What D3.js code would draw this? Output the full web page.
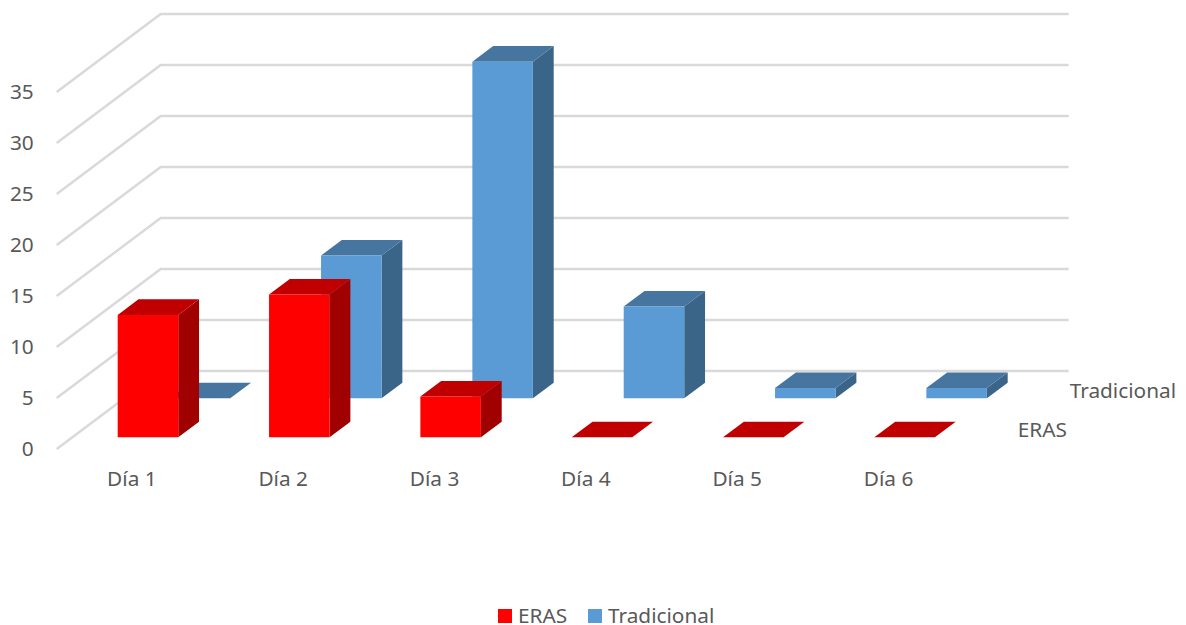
<!DOCTYPE html>
<html>
<head>
<meta charset="utf-8">
<script src="https://cdnjs.cloudflare.com/ajax/libs/d3/7.8.5/d3.min.js"></script>
<style>
    html, body { margin: 0; padding: 0; background: #fff; overflow: hidden; }
    text { font-family: "Noto Sans", sans-serif; fill: #595959; }
</style>
</head>
<body>
<svg id="plotarea" width="1186" height="625"></svg>
<script>
var days = ["Día 1", "Día 2", "Día 3", "Día 4", "Día 5", "Día 6"];
var seriesNames = ["ERAS", "Tradicional"];
var eras = [12, 14, 4, 0, 0, 0];
var tradicional = [0, 14, 33, 9, 1, 1];
var yTicks = [0, 5, 10, 15, 20, 25, 30, 35];

var fontSize = 20.8;

// Faces of each series: front, top, side
var colours = {
    "ERAS": {front: "#ff0000", top: "#c00000", side: "#a00000"},
    "Tradicional": {front: "#5b9bd5", top: "#4675a0", side: "#3a6488"}
};

// Floor of the box: front edge starts at (left, floorY), depth pushes it up and right
var left = 56.7, floorY = 449, floorW = 908;
var depthX = 104, depthY = 78;

var svg = d3.select("#plotarea");

var x = d3.scaleBand()
    .domain(days)
    .range([left, left + floorW])
    .paddingInner(0.6)
    .paddingOuter(0.3);

var y = d3.scaleLinear()
    .domain([0, 35])
    .range([floorY, 92]);

// Depth runs from 0 at the front of the box to 1 at the back wall
var z = d3.scaleBand()
    .domain(seriesNames)
    .range([0, 1])
    .paddingInner(0.6)
    .paddingOuter(0.3);

function project(px, value, d) {
    return [px + d * depthX, y(value) - d * depthY];
}

function pointsAttr(pts) {
    return pts.map(function (p) { return p[0] + "," + p[1]; }).join(" ");
}

// Gridlines: side wall segment, then along the back wall
svg.append("g").selectAll("path")
    .data(yTicks)
    .enter()
    .append("path")
    .attr("fill", "none")
    .attr("stroke", "#d9d9d9")
    .attr("stroke-width", 2.4)
    .attr("d", function (t) {
        var a = project(left, t, 0);
        var b = project(left, t, 1);
        var c = project(left + floorW, t, 1);
        return "M" + a + "L" + b + "L" + c;
    });

// One row of bars per series, the back row first so the front one covers it
var rows = [
    {name: "Tradicional", values: tradicional},
    {name: "ERAS", values: eras}
];

rows.forEach(function (row) {
    var c = colours[row.name];
    var d0 = z(row.name);
    var d1 = d0 + z.bandwidth();

    var bar = svg.append("g")
        .selectAll("g")
        .data(row.values.map(function (v, i) { return {day: days[i], value: v}; }))
        .enter()
        .append("g");

    function face(colour, corners) {
        bar.append("polygon")
            .attr("fill", colour)
            .attr("points", function (b) {
                var xa = x(b.day), xb = xa + x.bandwidth();
                return pointsAttr(corners(xa, xb, b.value));
            });
    }

    face(c.side, function (xa, xb, v) {
        return [project(xb, 0, d0), project(xb, v, d0), project(xb, v, d1), project(xb, 0, d1)];
    });
    face(c.top, function (xa, xb, v) {
        return [project(xa, v, d0), project(xa, v, d1), project(xb, v, d1), project(xb, v, d0)];
    });
    face(c.front, function (xa, xb, v) {
        return [project(xa, 0, d0), project(xa, v, d0), project(xb, v, d0), project(xb, 0, d0)];
    });
});

// Value axis
var yAxis = svg.append("g")
    .attr("transform", "translate(" + left + ",0)")
    .call(d3.axisLeft(y).tickValues(yTicks).tickSize(0).tickPadding(23));

// Category axis under the front edge
var xAxis = svg.append("g")
    .attr("transform", "translate(-0.5,464)")
    .call(d3.axisBottom(x).tickSize(0).tickPadding(7));

[yAxis, xAxis].forEach(function (axis) {
    axis.select(".domain").remove();
    axis.attr("font-family", null).attr("font-size", fontSize);
});

// Series names at the right end of the floor
svg.append("g").selectAll("text")
    .data(seriesNames)
    .enter()
    .append("text")
    .attr("font-size", fontSize)
    .attr("dy", "0.35em")
    .attr("transform", function (s) {
        var p = project(left + floorW, 0, z(s) + z.bandwidth() / 2);
        return "translate(" + (p[0] + 27) + "," + p[1] + ")";
    })
    .text(function (s) { return s; });

// Legend
var legendX = {"ERAS": 498, "Tradicional": 588};
var legend = svg.append("g").selectAll("g")
    .data(seriesNames)
    .enter()
    .append("g")
    .attr("transform", function (s) { return "translate(" + legendX[s] + ",609)"; });

legend.append("rect")
    .attr("width", 14)
    .attr("height", 14)
    .attr("fill", function (s) { return colours[s].front; });

legend.append("text")
    .attr("x", 20)
    .attr("y", 14)
    .attr("font-size", fontSize)
    .text(function (s) { return s; });
</script>
</body>
</html>
